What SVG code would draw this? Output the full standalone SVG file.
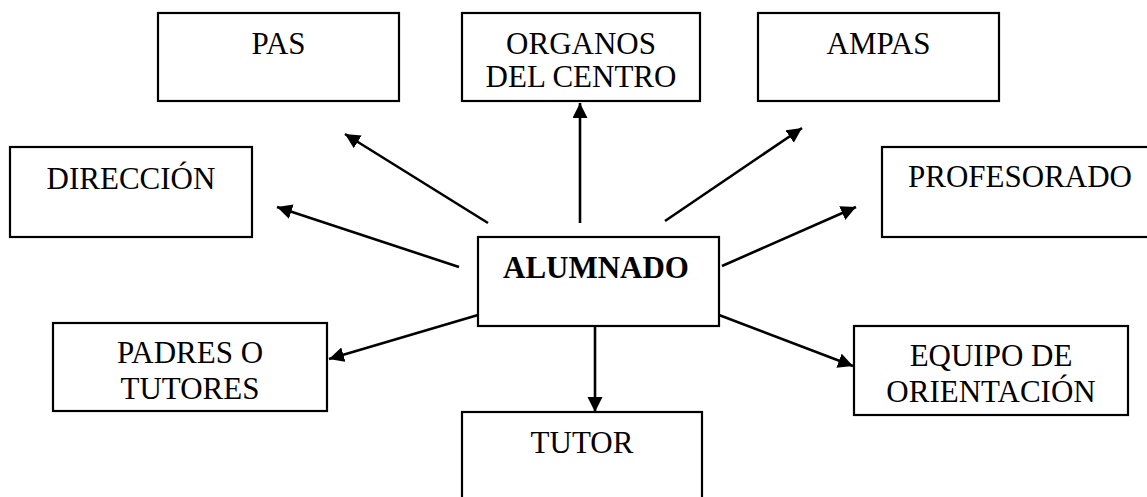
<svg xmlns="http://www.w3.org/2000/svg" width="1147" height="497" viewBox="0 0 1147 497">
<style>
.box{fill:#fff;stroke:#000;stroke-width:2.2}
.t{font-family:"Liberation Serif","Times New Roman",serif;font-size:31px;fill:#000;text-anchor:middle}
.b{font-weight:bold}
.c{stroke:#000;stroke-width:2.6;fill:none;marker-end:url(#ah)}
</style>
<defs>
<marker id="ah" markerUnits="userSpaceOnUse" markerWidth="16" markerHeight="16" refX="15" refY="7.5" orient="auto">
<path d="M0,0 L15,7.5 L0,15 Z" fill="#000"/>
</marker>
</defs>
<rect width="1147" height="497" fill="#fff"/>
<g id="pas"><rect class="box" x="158" y="13" width="241" height="88"/><text class="t" x="278.5" y="54">PAS</text></g>
<g id="organos"><rect class="box" x="462" y="13" width="238" height="88"/><text class="t" x="581" y="54">ORGANOS</text><text class="t" x="581" y="87">DEL CENTRO</text></g>
<g id="ampas"><rect class="box" x="758" y="13" width="241" height="88"/><text class="t" x="878.5" y="54">AMPAS</text></g>
<g id="direccion"><rect class="box" x="10" y="147" width="242" height="90"/><text class="t" x="131" y="189">DIRECCIÓN</text></g>
<g id="profesorado"><rect class="box" x="882" y="147" width="276" height="90"/><text class="t" x="1020" y="187">PROFESORADO</text></g>
<g id="alumnado"><rect class="box" x="478" y="237" width="241" height="89"/><text class="t b" x="596" y="278">ALUMNADO</text></g>
<g id="padres"><rect class="box" x="53" y="323" width="274" height="88"/><text class="t" x="190" y="363">PADRES O</text><text class="t" x="190" y="399">TUTORES</text></g>
<g id="tutor"><rect class="box" x="462" y="412" width="240" height="100"/><text class="t" x="582" y="453">TUTOR</text></g>
<g id="equipo"><rect class="box" x="854" y="326" width="274" height="89"/><text class="t" x="991" y="366">EQUIPO DE</text><text class="t" x="991" y="402">ORIENTACIÓN</text></g>
<g id="connectors">
<line class="c" x1="488" y1="223" x2="345" y2="134"/>
<line class="c" x1="580" y1="223" x2="580" y2="103"/>
<line class="c" x1="665" y1="221" x2="802" y2="128"/>
<line class="c" x1="459" y1="267" x2="277" y2="207"/>
<line class="c" x1="722" y1="266" x2="856" y2="207"/>
<line class="c" x1="478" y1="315" x2="329" y2="359"/>
<line class="c" x1="595" y1="326" x2="595" y2="412"/>
<line class="c" x1="719" y1="315" x2="853" y2="366"/>
</g>
</svg>
